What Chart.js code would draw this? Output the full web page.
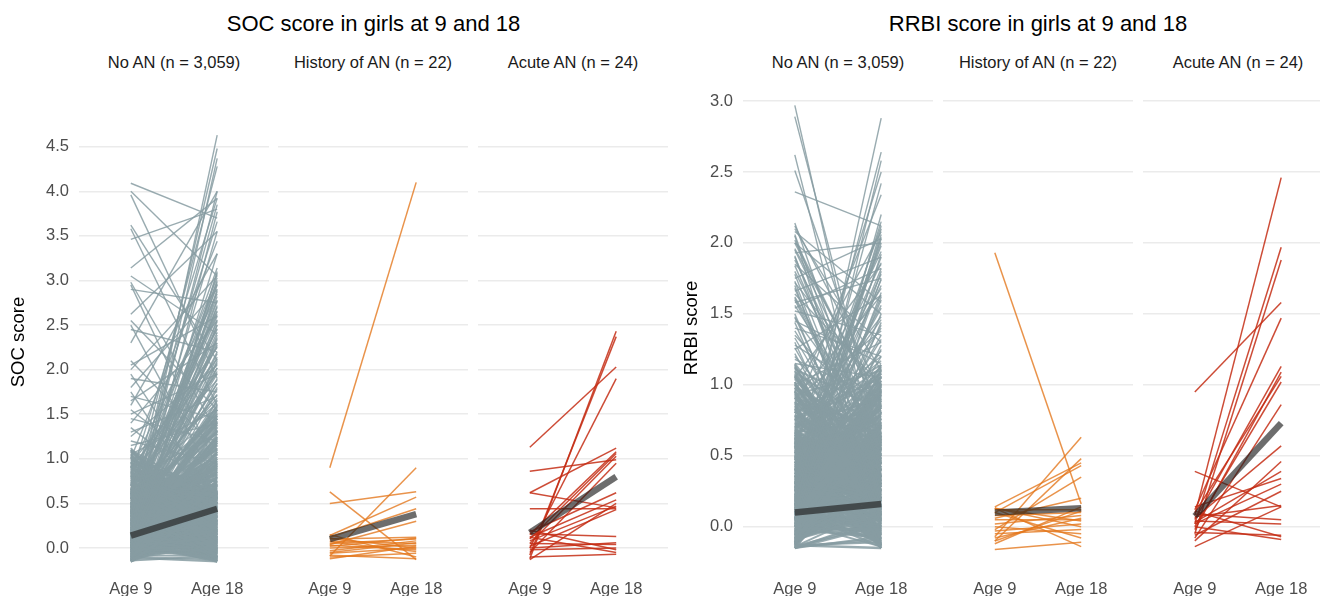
<!DOCTYPE html>
<html><head><meta charset="utf-8">
<script src="https://cdn.jsdelivr.net/npm/chart.js@4.4.1/dist/chart.umd.min.js"></script>
<style>
html,body{margin:0;padding:0;background:#fff;overflow:hidden;width:1320px;height:596px;}
body{position:relative;font-family:"Liberation Sans",Arial,Helvetica,sans-serif;}
canvas{position:absolute;top:0;}
.ttl{position:absolute;font-size:22px;line-height:22px;color:#000;white-space:nowrap;transform:translateX(-50%);top:13px;}
.strip{position:absolute;font-size:16.5px;line-height:16.5px;color:#1a1a1a;white-space:nowrap;transform:translateX(-50%);top:54px;}
</style></head><body>
<script>
// ---------- DATA ----------
const ageLabels = ['Age 9', 'Age 18'];
const facetLabels = ['No AN (n = 3,059)', 'History of AN (n = 22)', 'Acute AN (n = 24)'];
const socTitle = 'SOC score in girls at 9 and 18';
const rrbiTitle = 'RRBI score in girls at 9 and 18';
const socTicks = [0, 0.5, 1, 1.5, 2, 2.5, 3, 3.5, 4, 4.5];
const rrbiTicks = [0, 0.5, 1, 1.5, 2, 2.5, 3];

// SOC, No AN: sparse upper lines
const socNoAnUpper9 = [4.09,4.00,3.96,3.62,3.58,3.46,3.14,3.05,2.98,2.95,2.90,2.62,2.55,2.50,2.45,2.30,2.10,2.05,2.00,1.95,1.90,1.80,1.75,1.70,1.65,1.60,1.55,1.50,1.45,1.40,1.35,1.30,1.25,1.20,1.15,
 0.10,0.30,0.05,0.55,0.20,0.80,0.40,0.00,0.60,0.25,1.00,0.15,0.45,0.70,0.35,0.90,0.08,0.50,0.20,0.75,0.02,0.62,0.28,0.95,0.12,0.40,0.85,0.18,0.55,0.05,0.33,1.05,0.70,0.22,0.48,-0.10,0.65,0.38,0.14,0.88,0.03,0.26,0.58,-0.05,0.44,
 .05,.20,.40,.10,.60,.00,.30,.15,.50,.25,.08,.45,.70,.12,.35,.02,.55,.18,.80,.28,.06,.38,.65,.22,.48,-.05,.32,.14,.90,.42];
const socNoAnUpper18 = [3.70,3.05,1.90,2.10,1.60,3.80,3.92,2.40,1.30,0.90,2.75,3.55,1.55,0.70,2.20,4.00,1.10,2.60,3.05,0.50,1.75,2.90,0.30,1.45,2.30,3.30,0.80,1.95,1.20,2.55,0.60,1.70,2.05,0.95,1.40,
 4.63,4.48,4.37,4.28,4.00,3.92,3.85,3.77,3.66,3.55,3.44,3.30,3.14,3.03,2.95,2.85,2.77,2.65,2.54,2.45,2.39,2.30,2.20,2.12,2.02,1.95,1.88,1.80,1.72,1.65,1.60,1.55,1.50,1.45,1.38,3.10,2.98,2.70,2.50,2.25,2.08,1.85,1.68,2.88,2.60,
 3.08,2.96,2.82,2.72,2.62,2.50,2.42,2.34,2.26,2.18,2.10,2.02,1.96,1.90,1.84,1.78,1.72,1.66,1.62,3.00,2.90,2.78,2.66,2.56,2.46,2.36,2.28,2.14,2.06,1.98];
// SOC, No AN: mid-range lines
const socNoAnMid9 = [.66,.05,.72,.30,.85,-.10,.78,.15,.94,.40,.69,.22,1.05,.00,.81,.55,.90,.10,.74,.35,
 1.10,.18,.68,.48,.88,-.05,.97,.27,.76,.60,1.00,.08,.83,.44,.71,.13,1.08,.32,.92,-.12,
 .79,.50,.67,.20,1.03,.03,.86,.38,.73,.58,.95,.12,.70,.25,1.12,-.08,.82,.46,.89,.17,
 .75,.62,.99,.06,.84,.34,.68,.52,1.06,.00,.77,.28,.93,.42,.72,.14,1.01,.56,.87,-.03,
 .80,.36,.66,.09,.96,.24,.74,.47,1.09,.19,.85,.02,.70,.61,.91,.31,.78,.11,1.04,.43];
const socNoAnMid18 = [.10,.82,.35,1.05,-.05,.70,.50,1.25,.20,.95,.60,1.40,.00,.75,.28,1.10,.45,1.55,.15,.88,
 .55,1.18,-.10,.68,.30,1.00,.08,1.32,.40,.78,.62,1.45,.22,.90,.05,1.22,.48,.72,.12,1.08,
 .38,.98,.58,1.36,.18,.80,.02,1.15,.42,.70,.25,1.50,.64,.85,.07,1.28,.33,.92,.52,1.02,
 .14,.76,.46,1.60,.27,.84,-.02,1.12,.36,1.20,.60,.94,.09,1.42,.44,.74,.19,1.06,.56,.86,
 .31,1.30,.04,.79,.50,1.16,.24,.66,.12,1.48,.40,.96,.62,.71,.17,1.38,.54,1.24,.29,.89];
// SOC, No AN: dense core
const socNoAnCore9 = [-0.15,0.42,0.08,0.61,-0.03,0.27,0.95,0.14,-0.11,0.50,0.33,0.02,0.72,0.19,-0.07,0.46,0.10,0.58,0.24,-0.13,
 0.37,0.05,0.84,0.16,0.53,-0.01,0.30,0.64,0.12,-0.09,0.40,0.21,1.08,0.07,0.48,-0.05,0.35,0.18,0.66,0.00,
 0.26,0.56,-0.14,0.11,0.44,0.78,0.03,0.31,0.15,0.62,-0.08,0.22,0.39,0.09,0.52,0.98,-0.02,0.28,0.13,0.45,
 0.60,-0.12,0.20,0.36,0.04,0.68,0.17,0.49,-0.06,0.29,0.88,0.06,0.41,0.23,0.55,-0.10,0.32,0.01,0.63,0.25,
 0.13,0.47,-0.04,0.75,0.19,0.38,0.08,0.57,-0.15,0.34,1.02,0.11,0.43,0.26,0.65,0.02,0.21,0.51,-0.09,0.16,
 0.30,0.59,0.06,0.92,-0.11,0.40,0.14,0.27,0.54,0.00,0.70,0.23,0.44,-0.03,0.10,0.36,0.81,0.18,0.48,0.05,
 -0.07,0.62,0.28,0.12,0.39,0.03,0.57,1.10,0.20,-0.13,0.33,0.46,0.09,0.66,0.15,0.24,-0.01,0.52,0.37,0.86,
 0.07,0.31,-0.05,0.44,0.17,0.60,0.01,0.25,0.73,-0.14,0.41,0.11,0.50,0.22,0.04,0.35,0.64,-0.08,0.19,0.56,
 0.29,0.00,0.47,0.13,0.79,-0.10,0.38,0.06,0.61,0.21,0.16,0.42,-0.02,0.53,0.27,0.96,0.09,0.34,0.63,-0.12];
const socNoAnCore18 = [0.52,-0.10,0.88,0.20,1.35,0.05,0.63,0.31,-0.15,1.02,0.44,0.12,0.76,-0.04,0.27,1.48,0.58,0.09,0.38,0.95,
 -0.12,0.67,0.16,1.20,0.48,0.02,0.83,0.34,-0.07,0.59,1.10,0.23,0.41,-0.01,0.72,0.14,1.58,0.29,0.54,0.07,
 0.90,-0.14,0.36,0.62,0.18,1.28,0.46,0.00,0.79,0.25,-0.09,0.56,1.05,0.11,0.39,0.68,-0.03,0.32,1.42,0.21,
 0.50,0.04,0.86,-0.11,0.43,0.15,0.65,1.15,0.28,-0.06,0.74,0.37,0.08,0.98,0.55,-0.13,0.19,1.32,0.47,0.01,
 0.61,0.26,-0.08,0.81,0.13,1.52,0.40,0.06,0.70,0.33,-0.02,1.08,0.22,0.57,0.10,0.93,-0.15,0.45,0.30,1.24,
 0.03,0.66,0.17,-0.10,0.51,0.85,0.24,1.40,0.35,-0.05,0.60,0.12,0.77,0.42,0.00,1.00,0.53,-0.12,0.20,0.71,
 1.18,0.09,0.48,-0.01,0.64,0.27,0.89,0.14,-0.14,0.38,1.55,0.05,0.58,0.31,0.75,-0.07,0.44,0.16,1.12,0.22,
 -0.03,0.54,0.80,0.11,0.36,1.30,0.02,0.68,0.25,-0.09,0.97,0.41,0.18,0.62,-0.11,0.29,1.45,0.07,0.50,0.34,
 0.73,-0.06,0.21,1.06,0.46,0.13,0.57,-0.13,0.83,0.32,0.04,1.22,0.39,0.69,-0.02,0.15,0.92,0.28,0.60,0.10];
// SOC, No AN: densest base (low scores at both ages)
const socNoAnBase9 = [-.15,.02,.31,-.08,.47,.12,.60,-.01,.25,.38,-.12,.07,.55,.19,-.05,.43,.28,.63,.09,-.14,
 .34,.16,-.03,.51,.22,.04,.58,-.10,.40,.13,.27,-.07,.62,.06,.45,.20,-.13,.36,.10,.53,
 .00,.24,.49,-.09,.15,.65,.33,-.02,.41,.08,.57,.18,-.15,.29,.44,.03,.60,-.06,.21,.37,
 .11,-.11,.52,.26,.05,.46,-.04,.32,.64,.14,-.14,.39,.23,.01,.56,.17,-.08,.48,.30,.09,
 .42,-.01,.61,.12,.35,-.12,.50,.19,.06,.27,-.05,.58,.15,.40,-.10,.22,.54,.03,.33,.47,
 -.03,.13,.62,.25,-.15,.44,.07,.36,.59,.18,-.07,.29,.50,.00,.41,.10,.64,-.13,.20,.38];
const socNoAnBase18 = [.40,-.13,.18,.57,.02,.33,-.06,.62,.11,.48,.25,-.15,.38,.07,.55,-.02,.21,.44,.14,.60,
 -.09,.30,.52,.04,.63,.16,-.12,.42,.27,.09,.58,.35,-.04,.19,.50,-.14,.46,.01,.24,.65,
 .13,.56,-.07,.32,.61,.06,-.11,.28,.49,.20,-.01,.39,.59,.10,-.15,.45,.23,.03,.53,.15,
 .36,.64,-.05,.12,.43,.26,.57,-.10,.34,.08,.51,-.03,.22,.62,.17,.41,.00,.29,-.13,.54,
 .05,.47,.19,-.08,.60,.31,.14,-.15,.37,.56,.09,.25,-.06,.44,.63,.02,.18,.52,-.11,.35,
 .58,.07,-.04,.40,.21,.64,-.12,.30,.11,.48,.55,.03,.33,-.09,.16,.61,.27,.42,.06,-.01];
const socHist9  = [0.90,0.63,0.50,-0.09,0.14,0.12,0.15,0.10,0.08,0.05,0.03,0.00,-0.03,-0.06,-0.10,-0.12,0.07,0.02,-0.05,0.11,-0.08,0.04];
const socHist18 = [4.10,-0.13,0.63,0.90,0.57,0.44,-0.10,0.12,0.05,0.10,-0.02,0.03,0.08,0.00,-0.06,0.02,-0.04,0.11,0.06,0.00,-0.12,0.30];
const socAcute9  = [1.13,0.86,0.62,0.62,0.44,-0.12,-0.08,0.00,0.15,0.10,0.05,-0.05,0.18,0.12,0.08,0.02,0.16,0.05,-0.02,0.20,-0.10,0.00,-0.13,0.12];
const socAcute18 = [2.03,0.99,1.12,0.45,0.44,2.43,2.37,1.90,1.08,1.06,1.03,0.95,0.62,0.54,0.47,0.43,0.13,0.04,0.00,-0.02,-0.07,0.06,0.50,-0.05];
const socMeanNoAn  = [0.14, 0.44];
const socMeanHist  = [0.10, 0.38];
const socMeanAcute = [0.17, 0.80];

// RRBI, No AN: sparse upper lines
const rrbiNoAnUpper9 = [2.97,2.89,2.62,2.51,2.36,2.14,2.10,2.05,2.00,1.96,1.91,1.85,1.80,1.75,1.70,1.64,1.61,1.54,1.48,1.40,1.35,1.30,1.25,1.20,1.18,
 1.45,1.60,1.88,2.08,1.72,1.58,1.93,2.02,1.52,1.66,
 0.10,0.30,0.05,0.55,0.20,0.80,0.00,0.40,0.15,0.65,0.25,1.05,0.35,0.08,0.50,0.90,0.12,0.45,0.70,0.02,0.60,0.28,1.00,0.18,0.75,0.38,0.95,0.06,0.48,0.22,
 1.22,1.38,1.50,1.62,1.78,1.95,2.06,1.28,1.44,1.56,1.68,1.84,2.00,1.15,1.33,1.47,1.73,1.90,2.12,1.26,
 .05,.22,.40,.12,.58,.00,.30,.75,.18,.45,.08,.62,.26,.90,.35,.02,.52,.15,.70,.28];
const rrbiNoAnUpper18 = [0.30,0.55,0.20,0.75,2.12,0.40,1.10,0.05,1.50,0.85,0.25,1.30,0.60,2.03,0.10,1.00,0.45,1.82,0.15,1.20,0.70,0.00,1.63,0.50,0.90,
 1.15,0.35,0.65,1.58,0.95,1.75,2.00,0.80,1.35,1.90,
 2.88,2.64,2.58,2.50,2.42,2.34,2.20,2.12,2.03,1.94,1.90,1.85,1.82,1.75,1.70,1.63,1.60,1.54,1.48,1.44,1.40,1.35,1.30,1.25,1.20,2.00,2.08,1.65,1.78,2.15,
 .12,.40,.08,.55,.25,.70,.35,.90,.02,.60,.18,.45,.80,1.05,.30,.65,.15,.50,.95,.20,
 2.10,2.04,1.98,1.92,1.86,1.80,1.74,1.68,1.62,1.56,1.50,1.46,1.42,1.38,1.32,1.28,1.24,1.20,1.17,2.06];
// RRBI, No AN: mid-range lines
const rrbiNoAnMid9 = [.70,.05,.88,.25,.66,1.02,.12,.78,.40,.95,-.05,.72,.30,1.10,.18,.84,.55,.68,.00,.92,
 .60,1.06,.08,.75,.35,.99,.22,.81,.47,1.13,-.10,.69,.28,.90,.14,1.04,.52,.77,.03,.86,
 .42,.67,.96,.20,.73,.58,1.08,.10,.83,.33,.71,-.02,.94,.45,.65,1.00,.16,.79,.38,.87,
 .62,1.11,.06,.74,.26,.98,.50,.68,-.08,.91,.36,1.05,.13,.80,.44,.70,.24,.93,.57,1.01,
 .02,.76,.31,.85,.48,1.14,.19,.72,.64,.97,.09,.82,.40,1.07,.27,.66,.53,.89,-.12,.78];
const rrbiNoAnMid18 = [.10,.80,.30,.95,.45,.05,.72,.20,1.00,.15,.68,.55,.92,.08,.85,.25,1.08,.35,.76,.12,
 .88,.28,.70,1.02,.18,.62,.90,.40,.82,.06,.74,1.12,.22,.58,.97,.32,.78,.14,.86,.48,
 1.05,.38,.02,.84,.66,.94,.26,.73,.16,1.10,.42,.89,.10,.69,.98,.30,.81,.52,.20,.71,
 .04,.83,.93,.36,1.06,.12,.77,.60,.99,.24,.87,.44,.67,1.14,.08,.91,.56,.34,.75,.18,
 .96,.28,1.03,.46,.79,.00,.70,.90,.40,.64,1.01,.22,.85,.14,.72,1.09,.32,.66,.94,.50];
// RRBI, No AN: dense core
const rrbiNoAnCore9 = [0.05,0.48,-0.12,0.31,0.62,0.14,-0.04,0.87,0.25,0.40,-0.15,0.09,0.56,0.19,1.02,0.35,-0.08,0.27,0.60,0.02,
 0.44,0.12,-0.10,0.71,0.21,0.52,-0.01,0.33,0.16,0.95,0.06,0.38,-0.13,0.64,0.23,0.47,0.10,1.12,0.29,-0.06,
 0.58,0.17,0.36,0.00,0.79,0.26,-0.11,0.43,0.08,0.63,0.32,-0.03,0.50,0.13,0.91,0.22,0.41,-0.14,0.04,0.55,
 0.30,0.67,-0.07,0.18,0.45,0.11,1.06,0.37,-0.02,0.24,0.59,0.07,0.83,0.34,-0.09,0.51,0.15,0.28,0.65,0.01,
 0.42,-0.12,0.20,0.75,0.10,0.53,0.31,-0.05,0.98,0.16,0.46,0.03,0.61,0.25,-0.15,0.39,0.13,0.69,0.06,0.49,
 -0.01,0.27,0.57,0.09,1.15,0.36,-0.10,0.21,0.44,0.14,0.66,-0.04,0.32,0.85,0.05,0.54,0.19,-0.13,0.40,0.62,
 0.11,0.29,-0.08,0.73,0.47,0.02,0.35,0.58,0.17,-0.14,0.93,0.24,0.08,0.50,0.38,-0.02,0.64,0.13,0.43,0.20,
 0.81,-0.06,0.30,0.56,0.04,0.45,0.15,-0.11,0.68,0.26,1.09,0.10,0.37,0.60,-0.03,0.22,0.52,0.07,0.33,0.77,
 0.18,-0.15,0.41,0.63,0.00,0.28,0.88,0.12,0.48,-0.09,0.34,0.55,0.06,0.23,1.00,0.39,-0.05,0.16,0.59,0.03];
const rrbiNoAnCore18 = [0.38,-0.05,0.70,0.12,0.55,1.08,0.24,-0.13,0.46,0.03,0.63,0.19,0.90,0.31,-0.09,0.52,0.08,1.14,0.41,0.15,
 -0.14,0.60,0.27,0.82,0.05,0.44,-0.02,0.35,0.66,0.11,0.97,0.22,-0.11,0.50,0.17,0.74,0.01,0.39,0.58,0.29,
 0.09,1.03,-0.07,0.47,0.20,0.64,0.33,-0.15,0.85,0.13,0.54,0.02,0.42,0.26,0.68,-0.04,0.36,1.11,0.16,0.57,
 0.62,0.07,0.30,-0.10,0.78,0.45,0.14,0.93,-0.01,0.23,0.51,0.37,-0.12,0.65,0.10,0.28,1.00,0.48,0.04,0.34,
 0.21,0.72,-0.06,0.40,0.13,0.59,1.13,0.00,0.32,0.87,0.18,-0.14,0.53,0.25,0.06,0.67,0.43,-0.03,0.95,0.11,
 0.49,0.15,-0.09,0.61,0.35,0.03,0.80,0.27,0.56,-0.12,0.19,1.06,0.41,0.08,0.64,-0.05,0.30,0.73,0.12,0.46,
 -0.02,0.38,0.89,0.22,0.54,0.05,0.66,-0.15,0.31,0.14,1.10,0.44,0.01,0.58,0.24,-0.08,0.76,0.36,0.10,0.51,
 0.28,0.63,-0.11,0.17,0.99,0.42,0.07,0.55,-0.04,0.33,0.69,0.20,0.47,-0.13,0.84,0.12,0.37,0.02,0.60,1.05,
 0.16,-0.07,0.50,0.26,0.71,0.09,0.40,-0.01,0.92,0.34,0.04,0.57,0.19,-0.10,0.45,0.65,0.13,1.01,0.29,0.06];
// RRBI, No AN: densest base
const rrbiNoAnBase9 = [.03,.41,-.11,.22,.58,.09,-.06,.35,.64,.15,-.14,.47,.27,.01,.53,-.02,.19,.38,.11,.61,
 -.09,.30,.07,.50,.24,-.13,.44,.13,.62,.05,.33,-.04,.56,.18,.39,-.15,.26,.48,.08,.60,
 .16,-.07,.36,.55,.02,.29,-.12,.45,.21,.63,.10,-.01,.42,.31,.04,.57,-.10,.23,.49,.14,
 .37,-.05,.65,.12,.28,.52,-.14,.06,.40,.20,-.03,.59,.34,.00,.46,.17,-.08,.54,.25,.09,
 .43,-.15,.32,.61,.13,-.06,.51,.22,.04,.38,-.11,.27,.57,.15,.47,-.02,.35,.08,.63,.19,
 -.09,.44,.11,.30,.55,-.13,.24,.01,.50,.36,.16,-.04,.60,.07,.41,.28,-.12,.53,.18,.33];
const rrbiNoAnBase18 = [.27,.05,.52,-.08,.36,.14,.60,-.13,.44,.21,.02,.57,.31,-.04,.48,.11,.64,.18,-.10,.39,
 .55,-.01,.25,.08,.46,-.15,.34,.62,.13,.41,-.06,.22,.53,.00,.30,.58,-.12,.17,.43,.07,
 -.03,.49,.20,.63,.10,-.11,.37,.28,.56,.04,.45,-.07,.15,.61,.32,-.14,.24,.51,.09,.40,
 .19,.59,-.02,.35,.06,.47,-.09,.26,.65,.12,.42,-.15,.29,.54,.03,.38,.16,-.05,.50,.23,
 .60,.01,-.12,.33,.45,.10,.57,-.08,.21,.36,.64,-.03,.14,.49,.27,.05,.43,-.10,.31,.55,
 .08,.39,-.14,.52,.18,.62,.02,.34,-.06,.46,.25,.11,.58,-.01,.40,.15,.30,-.13,.48,.20];
const rrbiHist9  = [1.93,-0.07,-0.10,0.14,0.10,-0.02,0.13,-0.16,0.12,0.08,0.05,0.02,-0.03,-0.05,0.13,0.00,-0.08,0.10,-0.12,0.06,-0.10,0.13];
const rrbiHist18 = [0.16,0.63,0.48,0.45,0.43,0.35,-0.14,-0.11,0.12,0.10,0.05,0.08,0.02,-0.02,0.00,-0.05,0.06,-0.08,0.14,0.20,0.11,0.04];
const rrbiAcute9  = [0.95,0.08,0.02,-0.05,0.12,0.05,-0.02,0.10,0.00,-0.08,0.06,-0.10,0.03,0.14,0.39,-0.14,0.09,0.04,-0.04,0.11,0.00,-0.06,0.07,0.02];
const rrbiAcute18 = [1.58,2.46,1.97,1.88,1.47,1.13,1.09,1.06,1.02,0.86,0.57,0.46,0.39,0.34,0.14,0.14,0.05,0.02,-0.06,-0.07,-0.09,0.25,0.15,0.30];
const rrbiMeanNoAn  = [0.10, 0.16];
const rrbiMeanHist  = [0.10, 0.13];
const rrbiMeanAcute = [0.075, 0.73];

// ---------- STYLE / LAYOUT ----------
const FONT = '"Liberation Sans", Arial, Helvetica, sans-serif';
const H = 596;
const noAnColor = 'rgba(135,156,162,0.85)';
const groupColor = [noAnColor, 'rgba(228,120,30,0.8)', 'rgba(196,45,20,0.85)'];
const panels = [
  {title: socTitle, yTitle: 'SOC score', ticks: socTicks, yMin: -0.269, yMax: 4.889, top: 112, bottom: 572,
   facetLeft: [79, 278, 478], facetW: 190, axisLeft: 0, titlePad: 8,
   groups: [[[socNoAnUpper9, socNoAnUpper18, 1.4], [socNoAnMid9, socNoAnMid18, 2.0], [socNoAnCore9, socNoAnCore18, 2.0], [socNoAnBase9, socNoAnBase18, 2.6], socMeanNoAn],
            [[socHist9, socHist18, 1.5], socMeanHist], [[socAcute9, socAcute18, 1.5], socMeanAcute]]},
  {title: rrbiTitle, yTitle: 'RRBI score', ticks: rrbiTicks, yMin: -0.319, yMax: 3.12, top: 84, bottom: 572,
   facetLeft: [743, 943, 1143], facetW: 190, axisLeft: 670, titlePad: 11,
   groups: [[[rrbiNoAnUpper9, rrbiNoAnUpper18, 1.4], [rrbiNoAnMid9, rrbiNoAnMid18, 2.0], [rrbiNoAnCore9, rrbiNoAnCore18, 2.0], [rrbiNoAnBase9, rrbiNoAnBase18, 2.6], rrbiMeanNoAn],
            [[rrbiHist9, rrbiHist18, 1.5], rrbiMeanHist], [[rrbiAcute9, rrbiAcute18, 1.5], rrbiMeanAcute]]}
];

function addText(cls, text, x) {
  const d = document.createElement('div');
  d.className = cls; d.textContent = text; d.style.left = x + 'px';
  document.body.appendChild(d);
}

function facetChart(p, gi) {
  const first = gi === 0;
  const left = first ? p.axisLeft : p.facetLeft[gi];
  const yw = first ? p.facetLeft[0] - p.axisLeft : 0;
  const width = p.facetLeft[gi] + p.facetW - left;
  const cv = document.createElement('canvas');
  cv.width = width; cv.height = H;
  cv.style.left = left + 'px'; cv.style.width = width + 'px'; cv.style.height = H + 'px';
  document.body.appendChild(cv);
  const g = p.groups[gi];
  const mean = g[g.length - 1];
  const layers = g.slice(0, g.length - 1);
  const color = groupColor[gi];
  const datasets = [{
    data: [{x: 1, y: mean[0]}, {x: 2, y: mean[1]}],
    borderColor: 'rgba(30,30,30,0.65)', borderWidth: 6.5, pointRadius: 0, borderCapStyle: 'butt'
  }];
  for (const [v9, v18, lw] of layers) {
    const n = Math.min(v9.length, v18.length);
    for (let i = 0; i < n; i++) {
      datasets.push({data: [{x: 1, y: v9[i]}, {x: 2, y: v18[i]}],
        borderColor: color, borderWidth: lw, pointRadius: 0});
    }
  }
  new Chart(cv, {
    type: 'line',
    data: {datasets},
    options: {
      responsive: false, animation: false, devicePixelRatio: 1, events: [],
      layout: {padding: {top: p.top, bottom: 0, left: 0, right: 0}},
      plugins: {legend: {display: false}, tooltip: {enabled: false}, title: {display: false}},
      scales: {
        x: {type: 'linear', min: 0.4, max: 2.6,
          grid: {display: false}, border: {display: false},
          afterBuildTicks: s => { s.ticks = [{value: 1}, {value: 2}]; },
          afterFit: s => { s.height = H - p.bottom; },
          ticks: {callback: v => (v === 1 ? ageLabels[0] : ageLabels[1]), color: '#4d4d4d',
            font: {family: FONT, size: 16.5}, padding: 0, maxRotation: 0, autoSkip: false}},
        y: {type: 'linear', min: p.yMin, max: p.yMax,
          afterBuildTicks: s => { s.ticks = p.ticks.map(v => ({value: v})); },
          afterFit: s => { s.width = yw; },
          grid: {color: '#ebebeb', lineWidth: 1.5, drawTicks: false}, border: {display: false},
          ticks: {display: first, callback: v => Number(v).toFixed(1), color: '#4d4d4d',
            font: {family: FONT, size: 16.5}, padding: 10},
          title: {display: first, text: p.yTitle, color: '#000', font: {family: FONT, size: 18.5},
            padding: {top: p.titlePad, bottom: 0}}}
      }
    }
  });
}

for (const p of panels) {
  const cx = (p.facetLeft[0] + p.facetLeft[2] + p.facetW) / 2;
  addText('ttl', p.title, cx);
  for (let gi = 0; gi < 3; gi++) {
    addText('strip', facetLabels[gi], p.facetLeft[gi] + p.facetW / 2);
    facetChart(p, gi);
  }
}
</script>
</body></html>
